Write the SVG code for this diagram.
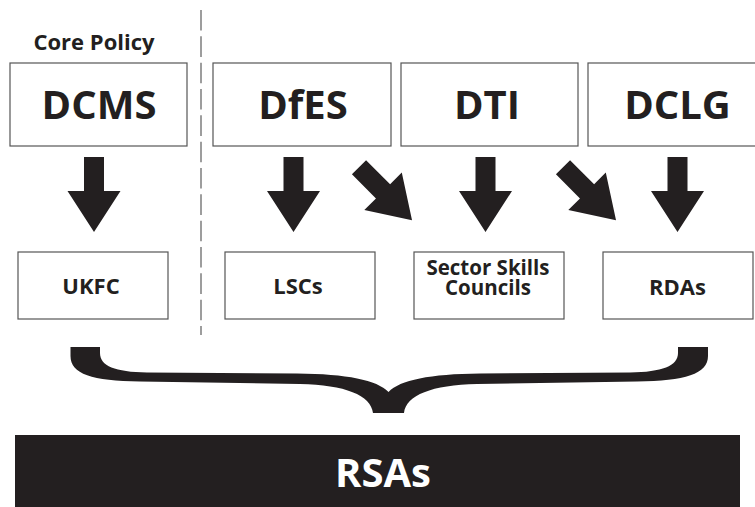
<svg xmlns="http://www.w3.org/2000/svg" width="755" height="507" viewBox="0 0 755 507">
<style>
.box{fill:#fff;stroke:#555;stroke-width:1.2}
.t{font-family:"Open Sans","Liberation Sans",sans-serif;font-weight:bold;fill:#231f20;text-anchor:middle}
.big{font-size:40px}
.sm{font-size:22px}
.ss{font-size:20.5px}
.arr{fill:#231f20}
</style>
<defs>
<path id="arrow" d="M-10,0 H10 V34 H26.5 L0,75 L-26.5,34 H-10 Z"/>
</defs>
<rect width="755" height="507" fill="#fff"/>
<line x1="201" y1="10" x2="201" y2="335" stroke="#858585" stroke-width="1.6" stroke-dasharray="20.6 5.73"/>
<text class="t sm" x="94" y="50">Core Policy</text>
<g id="dcms"><rect class="box" x="10" y="63" width="177" height="83"/><text class="t big" x="99" y="119">DCMS</text></g>
<g id="dfes"><rect class="box" x="213" y="63" width="178" height="83"/><text class="t big" x="303" y="119">DfES</text></g>
<g id="dti"><rect class="box" x="401" y="63" width="177" height="83"/><text class="t big" x="487" y="119">DTI</text></g>
<g id="dclg"><rect class="box" x="588" y="63" width="180" height="83"/><text class="t big" x="677.5" y="119">DCLG</text></g>
<g id="ukfc"><rect class="box" x="18" y="252" width="150" height="67"/><text class="t sm" x="91" y="293.5">UKFC</text></g>
<g id="lscs"><rect class="box" x="225" y="252" width="150" height="67"/><text class="t sm" x="298" y="294">LSCs</text></g>
<g id="ssc"><rect class="box" x="414" y="252" width="150" height="67"/><text class="t ss" x="488" y="274.5">Sector Skills</text><text class="t ss" x="488" y="294.5">Councils</text></g>
<g id="rdas"><rect class="box" x="603" y="252" width="150" height="67"/><text class="t sm" x="677.5" y="294.5">RDAs</text></g>
<g id="rsas"><rect x="15" y="435" width="725" height="72" fill="#231f20"/><text class="t big" x="383" y="487" style="fill:#fff">RSAs</text></g>
<g id="connectors" class="arr">
<use href="#arrow" transform="translate(94,157)"/>
<use href="#arrow" transform="translate(293.5,157)"/>
<use href="#arrow" transform="translate(485.5,157)"/>
<use href="#arrow" transform="translate(677.5,157)"/>
<use href="#arrow" transform="translate(359,167.3) rotate(-45)"/>
<use href="#arrow" transform="translate(563,167.3) rotate(-45)"/>
<path d="M70.5,347 V356 C70.5,374 92,381 140,381.5 L300,384 C345,385 371,395 373,413 H404 C406,395 432,385 477,384 L637,381.5 C685,381 708,374 708,356 V347 H678 V353 C678,366 662,372 630,372.5 L480,373.5 C430,374 400,380 388.5,392 C377,380 347,374 297,373.5 L147,372.5 C115,372 100,366 100,353 V347 Z"/>
</g>
</svg>
